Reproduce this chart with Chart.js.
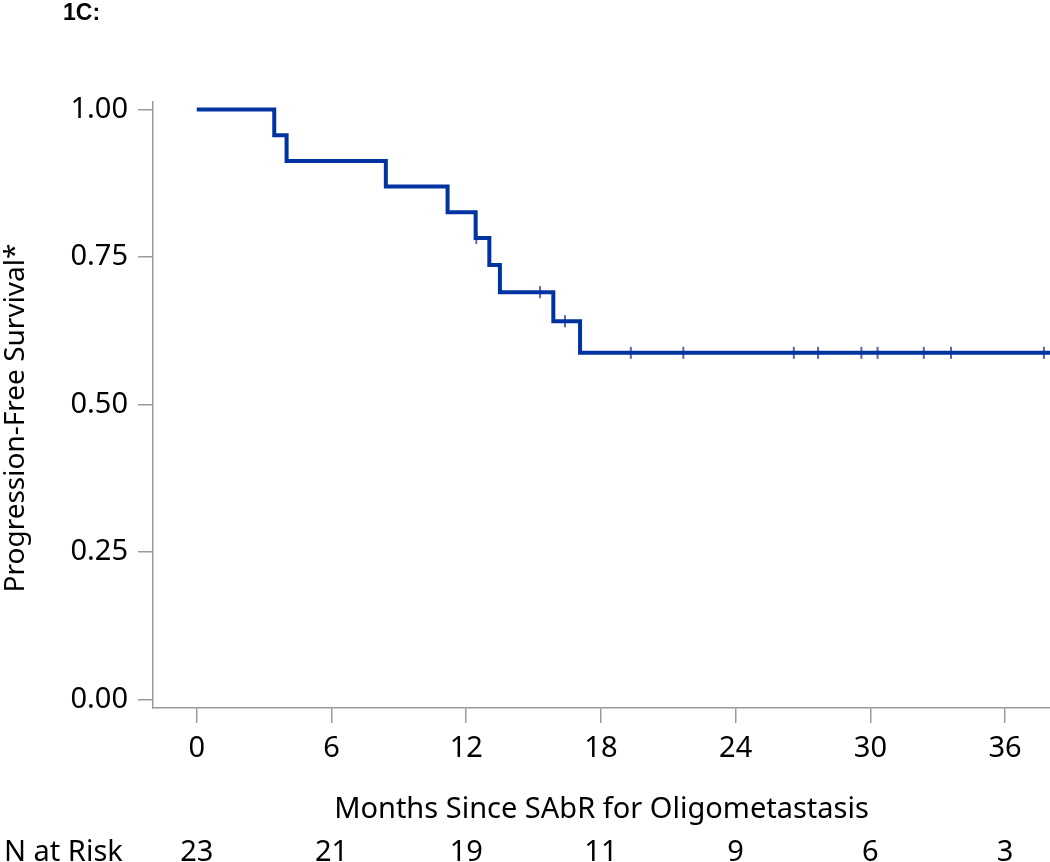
<!DOCTYPE html>
<html>
<head>
<meta charset="utf-8">
<style>
  html, body { margin: 0; padding: 0; background: #fff; }
  #wrap { width: 1050px; height: 862px; position: relative; }
</style>
<script src="https://cdn.jsdelivr.net/npm/chart.js@4.4.1/dist/chart.umd.min.js"></script>
</head>
<body>
<div id="wrap"><canvas id="c" width="1050" height="862"></canvas></div>
<script>
// Kaplan-Meier step curve (time in months, survival after the step)
const eventTimes = [0, 3.45, 4.0, 8.42, 11.17, 12.42, 13.03, 13.5, 15.88, 17.07, 38.0];
const survival   = [1.0, 0.9565, 0.9130, 0.8696, 0.8261, 0.7826, 0.7366, 0.6906, 0.6413, 0.5878, 0.5878];
// Censored observations
const censorTimes = [12.45, 15.29, 16.4, 19.33, 21.67, 26.59, 27.67, 29.6, 30.32, 32.38, 33.59, 37.73];
const censorSurv  = [0.7826, 0.6906, 0.6413, 0.5878, 0.5878, 0.5878, 0.5878, 0.5878, 0.5878, 0.5878, 0.5878, 0.5878];
// Axes
const xTicks = [0, 6, 12, 18, 24, 30, 36];
const yTicks = [0, 0.25, 0.5, 0.75, 1.0];
// Number at risk
const riskTimes = [0, 6, 12, 18, 24, 30, 36];
const nAtRisk = [23, 21, 19, 11, 9, 6, 3];

const FONT = '"Noto Sans", "DejaVu Sans", sans-serif';
const AXIS = '#9a9a9a';

const extraText = {
  id: 'extraText',
  afterDraw(chart) {
    const ctx = chart.ctx;
    const xs = chart.scales.x;
    ctx.save();
    // panel label
    ctx.fillStyle = '#000';
    ctx.font = 'bold 23px "Liberation Sans", Arial, sans-serif';
    ctx.textAlign = 'left';
    ctx.textBaseline = 'alphabetic';
    ctx.fillText('1C:', 63, 20);
    // y title
    ctx.save();
    ctx.translate(24, 418);
    ctx.rotate(-Math.PI / 2);
    ctx.font = '28px ' + FONT;
    ctx.textAlign = 'center';
    ctx.textBaseline = 'alphabetic';
    ctx.fillText('Progression-Free Survival*', 0, 0);
    ctx.restore();
    // N at risk row
    ctx.font = '29px ' + FONT;
    ctx.textBaseline = 'alphabetic';
    ctx.textAlign = 'left';
    ctx.fillText('N at Risk', 4, 861);
    ctx.textAlign = 'center';
    riskTimes.forEach((t, i) => {
      ctx.fillText(String(nAtRisk[i]), xs.getPixelForValue(t), 861);
    });
    ctx.restore();
  }
};

new Chart(document.getElementById('c'), {
  type: 'line',
  data: {
    datasets: [
      {
        label: 'PFS',
        data: eventTimes.map((t, i) => ({ x: t, y: survival[i] })),
        stepped: 'before',
        borderColor: '#0033a0',
        borderWidth: 4,
        pointRadius: 0,
        fill: false,
        borderCapStyle: 'butt',
        borderJoinStyle: 'miter'
      },
      {
        label: 'Censored',
        type: 'scatter',
        data: censorTimes.map((t, i) => ({ x: t, y: censorSurv[i] })),
        pointStyle: 'line',
        rotation: 90,
        pointRadius: 6,
        borderColor: '#5566a8',
        backgroundColor: '#5566a8',
        borderWidth: 2,
        showLine: false
      }
    ]
  },
  options: {
    responsive: false,
    animation: false,
    layout: { autoPadding: false, padding: { top: 102, left: 0, right: 0, bottom: 0 } },
    plugins: { legend: { display: false }, tooltip: { enabled: false }, title: { display: false } },
    scales: {
      x: {
        type: 'linear',
        position: 'bottom',
        min: -1.95,
        max: 38.0,
        afterFit(s) { s.height = 154; s.paddingLeft = 0; s.paddingRight = 0; },
        afterBuildTicks(s) { s.ticks = xTicks.map(v => ({ value: v })); },
        ticks: { font: { family: FONT, size: 29 }, color: '#000', padding: 8, maxRotation: 0, autoSkip: false },
        grid: { drawOnChartArea: false, drawTicks: true, tickLength: 15, color: AXIS, lineWidth: 1.5 },
        border: { display: true, color: AXIS, width: 1.5 },
        title: { display: true, text: 'Months Since SAbR for Oligometastasis', font: { family: FONT, size: 29 }, color: '#000', padding: { top: 0, bottom: 35 } }
      },
      y: {
        type: 'linear',
        min: -0.0142,
        max: 1.0129,
        afterFit(s) { s.width = 153; s.paddingTop = 0; s.paddingBottom = 0; },
        afterBuildTicks(s) { s.ticks = yTicks.map(v => ({ value: v })); },
        ticks: { font: { family: FONT, size: 29 }, color: '#000', padding: 10, callback: v => Number(v).toFixed(2) },
        grid: { drawOnChartArea: false, drawTicks: true, tickLength: 15, color: AXIS, lineWidth: 1.5 },
        border: { display: true, color: AXIS, width: 1.5 }
      }
    }
  },
  plugins: [extraText]
});
</script>
</body>
</html>
